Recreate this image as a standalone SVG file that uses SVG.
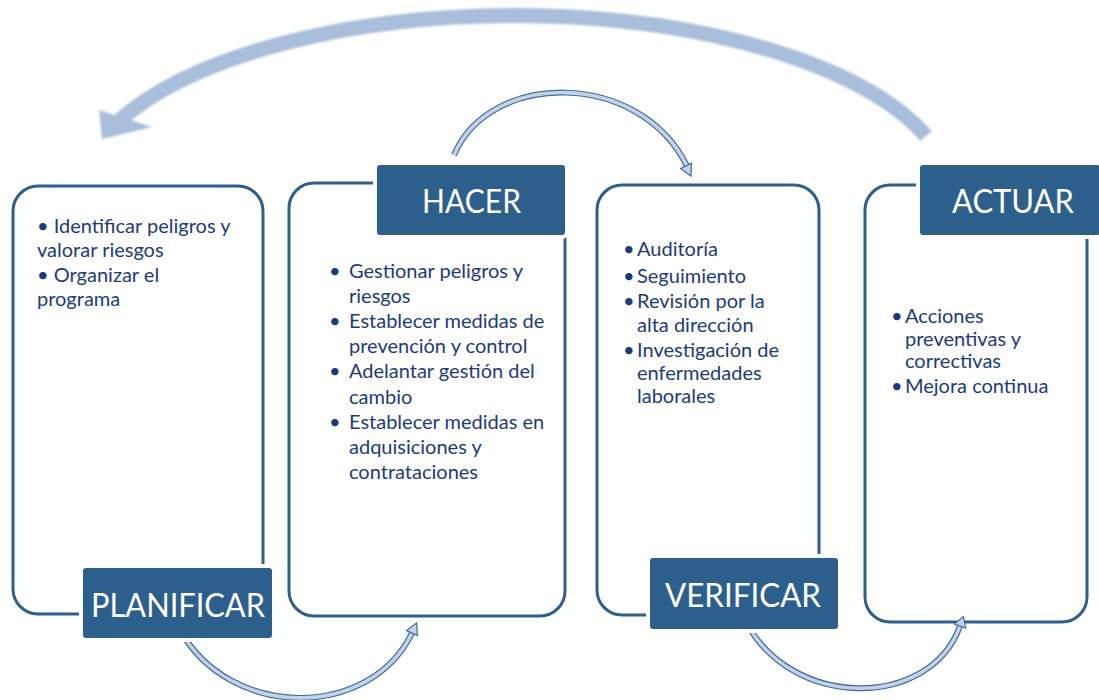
<svg xmlns="http://www.w3.org/2000/svg" width="1099" height="700" viewBox="0 0 1099 700">
<style>
.box{fill:none;stroke:#2e5f8e;stroke-width:3}
.tag{fill:#2d5f8d;stroke:#ffffff;stroke-width:4}
.title{font-family:"Lato","Liberation Sans",sans-serif;font-size:32px;fill:#ffffff}
.body{font-family:"Lato","Liberation Sans",sans-serif;font-size:20px;fill:#1c3b7c}
.shaftO{fill:none;stroke:#3f6b9d;stroke-width:6}
.shaftI{fill:none;stroke:#c4d2e6;stroke-width:3.6}
.head{fill:#c4d2e6;stroke:#3f6b9d;stroke-width:1.2;stroke-linejoin:miter}
</style>
<defs>
<filter id="soft" x="-5%" y="-10%" width="110%" height="130%"><feGaussianBlur stdDeviation="1.3"/></filter>
</defs>
<rect width="1099" height="700" fill="#ffffff"/>

<g id="boxes">
<rect id="box-planificar" class="box" x="13" y="186" width="250" height="428" rx="25"/>
<rect id="box-hacer" class="box" x="289" y="183" width="276" height="433" rx="25"/>
<rect id="box-verificar" class="box" x="597" y="185" width="222" height="430" rx="25"/>
<rect id="box-actuar" class="box" x="865" y="185" width="222" height="437" rx="25"/>
</g>

<g id="connectors">
<g id="big-arrow" filter="url(#soft)" fill="#a8bedb">
<path d="M 926 136 A 438 184 0 0 0 120 120" fill="none" stroke="#a8bedb" stroke-width="15"/>
<polygon points="99,110 152,127 102,139"/>
</g>
<g id="arrow-hacer-verificar">
<path class="shaftO" d="M 454 155 C 490 70, 640 70, 687 166"/>
<path class="shaftI" d="M 454 155 C 490 70, 640 70, 687 166"/>
<polygon class="head" points="691.4,163.3 691,176 680.6,168.7"/>
</g>
<g id="arrow-planificar-hacer">
<path class="shaftO" d="M 180 630 C 230 720, 370 720, 412 633"/>
<path class="shaftI" d="M 180 630 C 230 720, 370 720, 412 633"/>
<polygon class="head" points="417.5,635.5 416.6,623 406.5,630.5"/>
</g>
<g id="arrow-verificar-actuar">
<path class="shaftO" d="M 745 620 C 790 710, 930 710, 960 626"/>
<path class="shaftI" d="M 745 620 C 790 710, 930 710, 960 626"/>
<polygon class="head" points="965.7,628 963.4,616.6 954.3,624"/>
</g>
</g>

<g id="node-planificar">
<rect class="tag" x="81" y="566" width="193" height="74" rx="5"/>
<text class="title" x="91" y="617" textLength="174" lengthAdjust="spacingAndGlyphs">PLANIFICAR</text>
<text class="body" x="37" y="233">• Identificar peligros y</text>
<text class="body" x="37" y="257">valorar riesgos</text>
<text class="body" x="37" y="282">• Organizar el</text>
<text class="body" x="37" y="306">programa</text>
</g>

<g id="node-hacer">
<rect class="tag" x="375" y="163" width="192" height="74" rx="5"/>
<text class="title" x="422" y="213" textLength="99" lengthAdjust="spacingAndGlyphs">HACER</text>
<text class="body" x="329" y="278">•</text>
<text class="body" x="349" y="278">Gestionar peligros y</text>
<text class="body" x="349" y="303">riesgos</text>
<text class="body" x="329" y="328">•</text>
<text class="body" x="349" y="328">Establecer medidas de</text>
<text class="body" x="349" y="353">prevención y control</text>
<text class="body" x="329" y="378">•</text>
<text class="body" x="349" y="378">Adelantar gestión del</text>
<text class="body" x="349" y="404">cambio</text>
<text class="body" x="329" y="429">•</text>
<text class="body" x="349" y="429">Establecer medidas en</text>
<text class="body" x="349" y="454">adquisiciones y</text>
<text class="body" x="349" y="479">contrataciones</text>
</g>

<g id="node-verificar">
<rect class="tag" x="648" y="556" width="192" height="75" rx="5"/>
<text class="title" x="665" y="607" textLength="156" lengthAdjust="spacingAndGlyphs">VERIFICAR</text>
<text class="body" x="623" y="256">•</text>
<text class="body" x="637" y="256">Auditoría</text>
<text class="body" x="623" y="283">•</text>
<text class="body" x="637" y="283">Seguimiento</text>
<text class="body" x="623" y="308">•</text>
<text class="body" x="637" y="308">Revisión por la</text>
<text class="body" x="637" y="332">alta dirección</text>
<text class="body" x="623" y="357">•</text>
<text class="body" x="637" y="357">Investigación de</text>
<text class="body" x="637" y="380">enfermedades</text>
<text class="body" x="637" y="403">laborales</text>
</g>

<g id="node-actuar">
<rect class="tag" x="918" y="163" width="184" height="74" rx="5"/>
<text class="title" x="952" y="213" textLength="122" lengthAdjust="spacingAndGlyphs">ACTUAR</text>
<text class="body" x="891" y="323">•</text>
<text class="body" x="905" y="323">Acciones</text>
<text class="body" x="905" y="346">preventivas y</text>
<text class="body" x="905" y="368">correctivas</text>
<text class="body" x="891" y="393">•</text>
<text class="body" x="905" y="393">Mejora continua</text>
</g>
</svg>
